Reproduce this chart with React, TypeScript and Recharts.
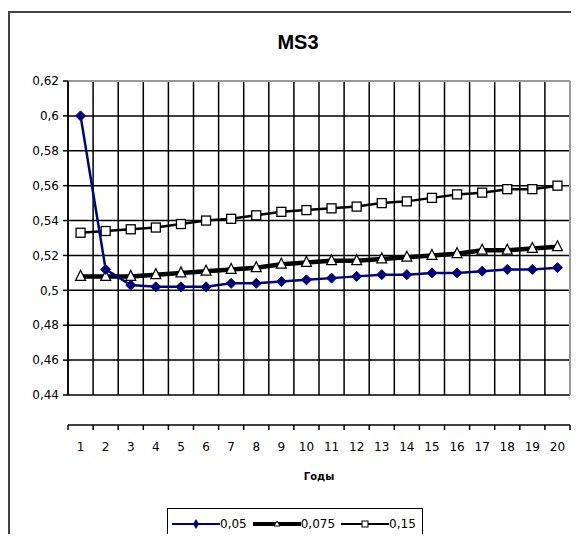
import React from 'react';
import { LineChart, Line, XAxis, YAxis, CartesianGrid, ReferenceLine } from 'recharts';

const years = [1, 2, 3, 4, 5, 6, 7, 8, 9, 10, 11, 12, 13, 14, 15, 16, 17, 18, 19, 20];
const s005 = [0.6, 0.512, 0.503, 0.502, 0.502, 0.502, 0.504, 0.504, 0.505, 0.506, 0.507, 0.508, 0.509, 0.509, 0.51, 0.51, 0.511, 0.512, 0.512, 0.513];
const s0075 = [0.508, 0.508, 0.508, 0.509, 0.51, 0.511, 0.512, 0.513, 0.515, 0.516, 0.517, 0.517, 0.518, 0.519, 0.52, 0.521, 0.523, 0.523, 0.524, 0.525];
const s015 = [0.533, 0.534, 0.535, 0.536, 0.538, 0.54, 0.541, 0.543, 0.545, 0.546, 0.547, 0.548, 0.55, 0.551, 0.553, 0.555, 0.556, 0.558, 0.558, 0.56];
const seriesNames = ['0,05', '0,075', '0,15'];
const yTicks = [0.44, 0.46, 0.48, 0.5, 0.52, 0.54, 0.56, 0.58, 0.6, 0.62];
const title = 'MS3';
const xTitle = 'Годы';

const data = years.map((y, i) => ({ year: y, a: s005[i], b: s0075[i], c: s015[i] }));
const boundaries = [...years.map((y) => y - 0.5), years[years.length - 1] + 0.5];
const xTicksAll = [...boundaries, ...years].sort((p, q) => p - q);

const FONT = '"DejaVu Sans", sans-serif';
const NAVY = '#000080';

const Diamond = (props: any) => {
  const { cx, cy } = props;
  if (cx == null || cy == null) return <g key={props.index} />;
  const r = 5;
  return (
    <polygon key={props.index} points={`${cx},${cy - r} ${cx + r},${cy} ${cx},${cy + r} ${cx - r},${cy}`} fill={NAVY} stroke={NAVY} strokeWidth={1} />
  );
};
const Triangle = (props: any) => {
  const { cx, cy } = props;
  if (cx == null || cy == null) return <g key={props.index} />;
  const r = 5;
  return (
    <polygon key={props.index} points={`${cx},${cy - r - 1} ${cx + r},${cy + r - 1} ${cx - r},${cy + r - 1}`} fill="#fff" stroke="#000" strokeWidth={1.2} />
  );
};
const Square = (props: any) => {
  const { cx, cy } = props;
  if (cx == null || cy == null) return <g key={props.index} />;
  const r = 4.5;
  return <rect key={props.index} x={cx - r} y={cy - r} width={2 * r} height={2 * r} fill="#fff" stroke="#000" strokeWidth={1.3} />;
};

const XTick = (props: any) => {
  const { x, y, payload } = props;
  const v = payload.value;
  if (Number.isInteger(v)) {
    return (
      <text x={x} y={y + 22} textAnchor="middle" dominantBaseline="middle" fontFamily={FONT} fontSize={12} fill="#000">
        {v}
      </text>
    );
  }
  return <line x1={x} x2={x} y1={y} y2={y + 5} stroke="#000" strokeWidth={1.5} />;
};

const LegendIcon = ({ kind }: { kind: number }) => (
  <svg width={50} height={12} style={{ display: 'block' }}>
    {kind === 0 && (
      <g>
        <line x1={2} x2={50} y1={6} y2={6} stroke={NAVY} strokeWidth={2} />
        <polygon points="26,1 29,6 26,11 23,6" fill={NAVY} />
      </g>
    )}
    {kind === 1 && (
      <g>
        <line x1={2} x2={50} y1={6} y2={6} stroke="#000" strokeWidth={4} />
        <polygon points="26,3 29,8 23,8" fill="#fff" stroke="#000" strokeWidth={1} />
      </g>
    )}
    {kind === 2 && (
      <g>
        <line x1={2} x2={50} y1={6} y2={6} stroke="#000" strokeWidth={2} />
        <rect x={23} y={3} width={6} height={6} fill="#fff" stroke="#000" strokeWidth={1} />
      </g>
    )}
  </svg>
);

export default function App() {
  return (
    <div style={{ position: 'relative', width: 571, height: 534, marginBottom: -8, background: '#fff', fontFamily: FONT }}>
      <div style={{ position: 'absolute', left: 0, top: 3, width: 571, height: 531, borderLeft: '2px solid #444', borderTop: '2px solid #444', boxSizing: 'border-box' }} />
      <div style={{ position: 'absolute', left: 230, top: 22, width: 120, height: 24, lineHeight: '24px', textAlign: 'center', fontFamily: '"Liberation Sans", Arial, sans-serif', fontWeight: 'bold', fontSize: 20, color: '#000' }}>
        {title}
      </div>
      <div style={{ position: 'absolute', left: 0, top: 0 }}>
        <LineChart width={571} height={534} data={data} margin={{ top: 73, right: 9, bottom: 87, left: 0 }}>
          <XAxis xAxisId="grid" type="number" dataKey="year" domain={[0.5, 20.5]} ticks={boundaries} interval={0} hide />
          <CartesianGrid xAxisId="grid" stroke="#000" strokeWidth={1.5} fill="none" />
          <XAxis
            xAxisId="main"
            type="number"
            dataKey="year"
            domain={[0.5, 20.5]}
            ticks={xTicksAll}
            interval={0}
            height={60}
            tickSize={0}
            tickMargin={0}
            tickLine={false}
            tick={<XTick />}
            axisLine={{ stroke: '#000', strokeWidth: 1.5 }}
            label={{ value: xTitle, position: 'insideBottom', offset: 5, style: { fontFamily: FONT, fontSize: 10, fontWeight: 'bold', fill: '#000' } }}
          />
          <YAxis
            domain={[0.44, 0.62]}
            ticks={yTicks}
            interval={0}
            width={60}
            tickSize={5}
            tickMargin={4}
            tickFormatter={(v: number) => String(v).replace('.', ',')}
            tick={{ fontFamily: FONT, fontSize: 12, fill: '#000' }}
            tickLine={{ stroke: '#000', strokeWidth: 1.5 }}
            axisLine={{ stroke: '#000', strokeWidth: 1.5 }}
          />
          <ReferenceLine xAxisId="main" y={0.62} stroke="#999" strokeWidth={2} />
          <ReferenceLine xAxisId="main" x={20.5} stroke="#999" strokeWidth={2} />
          <Line xAxisId="main" type="linear" dataKey="c" name={seriesNames[2]} stroke="#000" strokeWidth={2.5} dot={Square} isAnimationActive={false} />
          <Line xAxisId="main" type="linear" dataKey="b" name={seriesNames[1]} stroke="#000" strokeWidth={4.5} dot={Triangle} isAnimationActive={false} />
          <Line xAxisId="main" type="linear" dataKey="a" name={seriesNames[0]} stroke={NAVY} strokeWidth={2.5} dot={Diamond} isAnimationActive={false} />
        </LineChart>
      </div>
      <div style={{ position: 'absolute', left: 159, top: 500, width: 256, height: 32, border: '1.5px solid #000', boxSizing: 'border-box', display: 'flex', alignItems: 'center', fontSize: 12, color: '#000', paddingLeft: 2 }}>
        {seriesNames.map((n, i) => (
          <div key={n} style={{ display: 'flex', alignItems: 'center', marginRight: i === 2 ? 0 : 4 }}>
            <LegendIcon kind={i} />
            <span>{n}</span>
          </div>
        ))}
      </div>
    </div>
  );
}
